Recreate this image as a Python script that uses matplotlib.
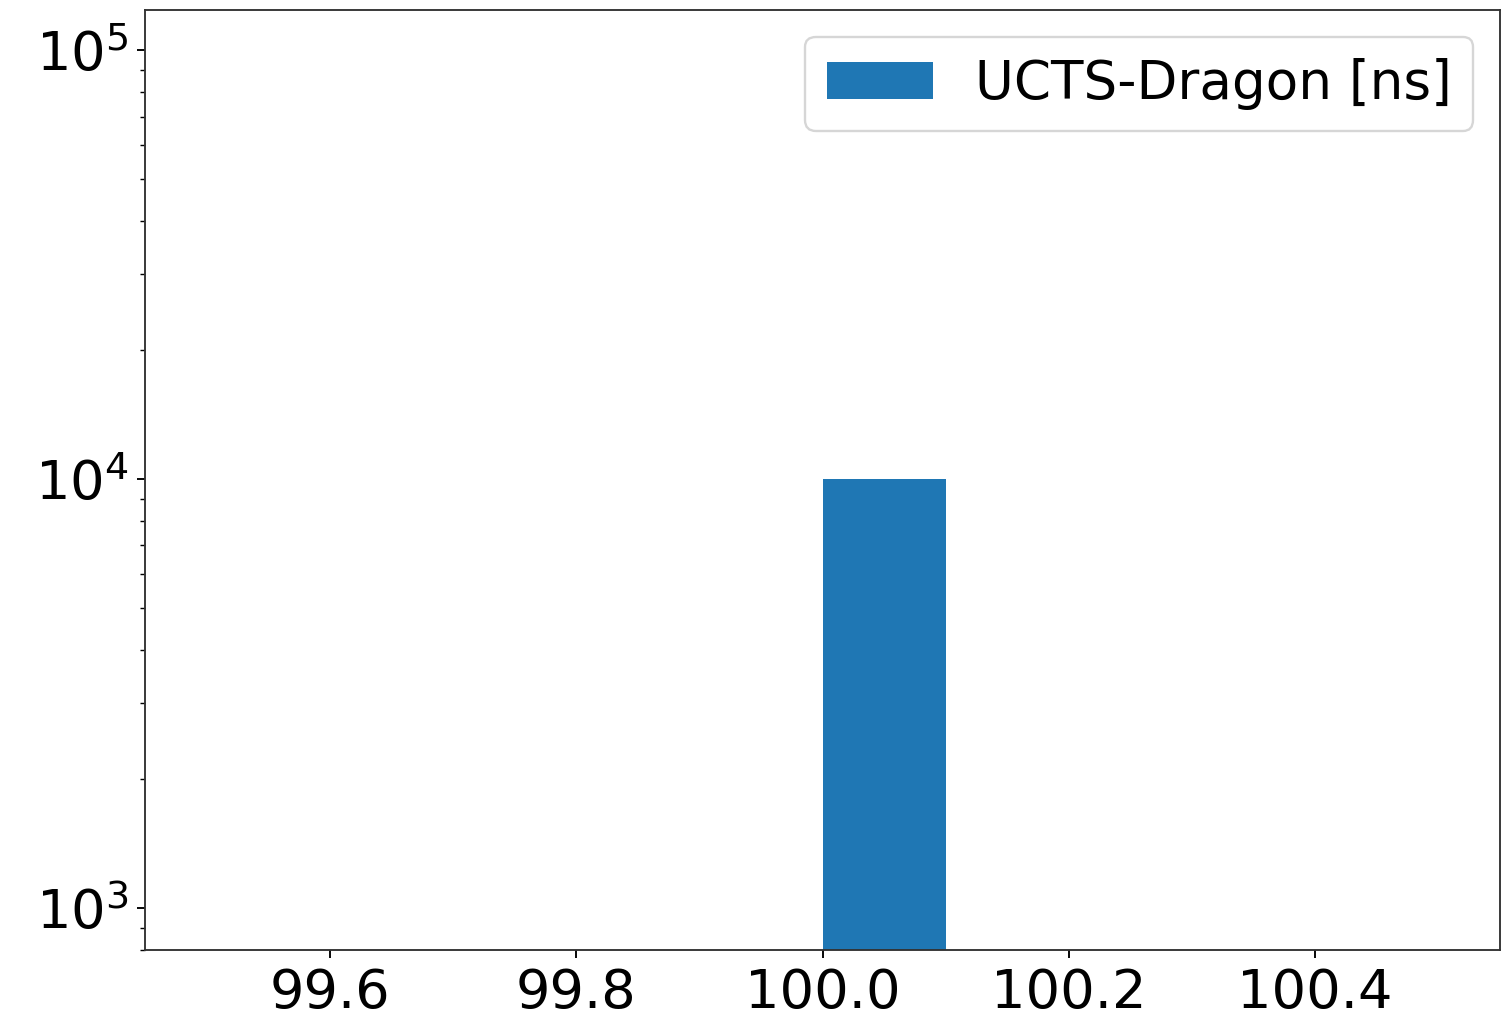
import numpy as np
import matplotlib
matplotlib.use("Agg")
import matplotlib.pyplot as plt

# histogram bins (10 bins over 99.5..100.5) and counts per bin
bin_edges = [99.5, 99.6, 99.7, 99.8, 99.9, 100.0, 100.1, 100.2, 100.3, 100.4, 100.5]
counts = [0, 0, 0, 0, 0, 10000, 0, 0, 0, 0]
label = "UCTS-Dragon [ns]"

plt.rcParams['font.size'] = 23

fig = plt.figure(figsize=(1511 / 170, 1020 / 170), dpi=170)
ax = fig.add_axes([0.096, 0.0686, 0.8967, 0.9216])

centers = [(a + b) / 2 for a, b in zip(bin_edges[:-1], bin_edges[1:])]
ax.hist(centers, bins=bin_edges, weights=counts, log=True, label=label,
        color='#1f77b4')

ax.set_xlim(99.45, 100.55)
ax.set_ylim(798, 124000)
ax.set_xticks([99.6, 99.8, 100.0, 100.2, 100.4])
for sp in ax.spines.values():
    sp.set_edgecolor('#333333')
ax.legend(loc='upper right', fontsize=22.5)

fig.savefig("out.png", dpi=170)
